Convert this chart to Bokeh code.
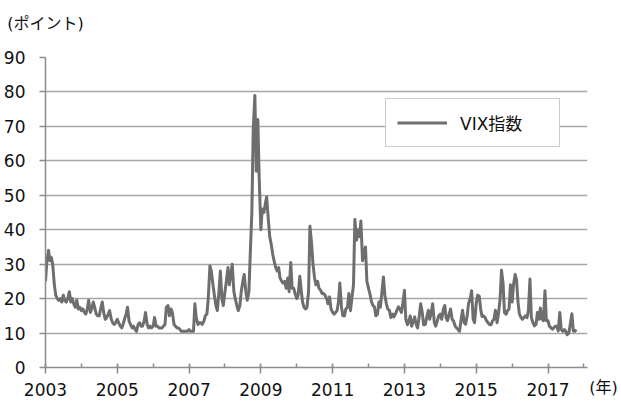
import numpy as np
import pandas as pd
from bokeh.plotting import figure
from bokeh.models import (Range1d, FixedTicker, Legend, LegendItem, ColumnDataSource,
                          LinearAxis)
from bokeh.embed import file_html
from bokeh.resources import INLINE

# VIX index, semi-monthly readings (1st and 15th of each month)
vix_2003 = [25, 31, 34, 31, 32, 30, 24, 21, 20, 19.5, 20, 19, 21, 19.5, 19, 20, 22, 19, 20, 18.5, 17.5, 19.5, 17, 17.5]
vix_2004 = [16.5, 17, 16, 15.5, 17, 19.5, 16, 17, 19, 17.5, 15.5, 15, 15, 17, 19, 16, 14, 14.5, 15.5, 16.5, 14, 13, 12.5, 13]
vix_2005 = [14, 13, 12, 11.5, 12.5, 14, 15.5, 17.5, 13.5, 12.5, 11.5, 12, 11, 10.5, 12.5, 13, 12, 12, 13.5, 16, 12.5, 11.5, 12, 11.5]
vix_2006 = [12, 14.5, 12, 12, 11.5, 11.5, 11.5, 12, 12.5, 17.5, 18, 15, 17, 16, 12.5, 12, 11.5, 11.5, 11, 10.5, 10.5, 10.5, 10.5, 10.5]
vix_2007 = [11, 10.5, 10.5, 10.5, 18.5, 14.5, 12.5, 13, 13, 12.5, 13.5, 15, 15.5, 20, 29.5, 28, 24, 21, 18, 16.5, 22, 28, 20, 18]
vix_2008 = [22, 25, 29, 24, 27, 30, 22, 20, 18, 16.5, 18, 22, 25, 27, 22, 19.5, 22, 33, 45, 69, 79, 57, 72, 55]
vix_2009 = [40, 46, 45, 47.5, 49.5, 44, 38, 36, 33, 31, 29, 28, 29, 26, 25, 24.5, 25, 23, 26, 22, 30.5, 23, 23, 21.5]
vix_2010 = [20, 21, 26.5, 22.5, 19, 17.5, 17, 17.5, 22, 41, 36, 30, 26, 24, 25, 23, 22.4, 21.5, 21.5, 21, 20, 18.5, 20.5, 17]
vix_2011 = [16, 15.5, 16, 16.5, 19, 24.5, 17.5, 15, 15, 17, 17.5, 21.5, 16.5, 20, 24, 43, 37, 40, 38, 42.5, 31, 33, 35, 25]
vix_2012 = [23, 21.4, 19, 18, 17.6, 15, 15.5, 19, 17.5, 21.5, 26.3, 21, 18.5, 17, 16.6, 14.5, 15.5, 14.7, 15.5, 16.5, 17.6, 17, 16, 18.5]
vix_2013 = [22.4, 14, 12.4, 13.5, 15, 12, 13.5, 14.7, 12.5, 11.5, 15, 18.5, 16, 12.4, 12.5, 14.5, 16.6, 14, 16, 18.5, 13, 12, 13.5, 15]
vix_2014 = [15.5, 14, 17, 18, 14.5, 13.6, 15.5, 17, 14, 13.5, 12, 11.5, 11, 10.5, 14, 16.6, 13, 12.6, 15, 18.6, 20, 22.3, 14, 13]
vix_2015 = [18.6, 21, 20.7, 17, 14.8, 15, 14.5, 13.6, 13, 12.5, 12.4, 13.5, 14, 16.6, 13, 15.6, 20, 28.2, 24.4, 16, 15.5, 16.5, 17, 24]
vix_2016 = [19, 24, 27, 25.3, 19, 15.6, 14.5, 14, 14.5, 15, 14.5, 16.5, 25.7, 14.5, 13, 12.1, 12.5, 16, 14, 17.3, 14, 13.6, 22.3, 13.6]
vix_2017 = [13.6, 12, 11.5, 11.1, 11.5, 12, 12, 10.6, 16, 11.1, 10.5, 11, 10.5, 9.5, 10, 12.5, 15.6, 10.6, 10.5, 11]

x_major_ticks = [2003, 2005, 2007, 2009, 2011, 2013, 2015, 2017]
x_minor_ticks = list(range(2003, 2019))
y_ticks = [0, 10, 20, 30, 40, 50, 60, 70, 80, 90]
series_name = "VIX指数"
y_unit_label = "(ポイント)"
x_unit_label = "(年)"

values = (vix_2003 + vix_2004 + vix_2005 + vix_2006 + vix_2007 + vix_2008 + vix_2009 +
          vix_2010 + vix_2011 + vix_2012 + vix_2013 + vix_2014 + vix_2015 + vix_2016 + vix_2017)
dates = pd.date_range("2003-01-01", periods=len(values), freq="SMS")
years = dates.year + (dates.dayofyear - 1) / np.where(dates.is_leap_year, 366, 365)

src = ColumnDataSource(dict(x=np.asarray(years, dtype=float), y=values))

NUM_FONT = "DejaVu Sans"
JP_FONT = "DejaVu Sans, Noto Sans CJK JP"
GRID = "#a6a6a6"
AXIS = "#8c8c8c"

X_START, X_END = 2003, 2018.1

p = figure(width=621, height=403, output_backend="svg", toolbar_location=None,
           x_range=Range1d(X_START, X_END), y_range=Range1d(0, 90),
           min_border_left=43, min_border_right=34, min_border_top=57, min_border_bottom=36)
p.outline_line_color = None
p.background_fill_color = "white"

r = p.line("x", "y", source=src, line_color="#6e6e6e", line_width=3, line_join="round")

# x axis
xa = p.xaxis[0]
xa.ticker = FixedTicker(ticks=x_major_ticks, minor_ticks=x_minor_ticks)
xa.axis_line_color = AXIS
xa.axis_line_width = 1.5
xa.major_tick_line_color = AXIS
xa.minor_tick_line_color = AXIS
xa.major_tick_line_width = 1.5
xa.minor_tick_line_width = 1.5
xa.major_tick_in = 3
xa.major_tick_out = 6
xa.minor_tick_in = 4
xa.minor_tick_out = 0
xa.major_label_text_font = NUM_FONT
xa.major_label_text_font_size = "17px"
xa.major_label_text_color = "#111111"
xa.major_label_standoff = 9

# y axis
ya = p.yaxis[0]
ya.ticker = FixedTicker(ticks=y_ticks)
ya.axis_line_color = AXIS
ya.axis_line_width = 1.5
ya.major_tick_line_color = AXIS
ya.major_tick_line_width = 1.5
ya.major_tick_in = 0
ya.major_tick_out = 6
ya.minor_tick_line_color = None
ya.major_label_text_font = NUM_FONT
ya.major_label_text_font_size = "17px"
ya.major_label_text_color = "#111111"
ya.major_label_standoff = 14

p.xgrid.grid_line_color = None
p.ygrid.ticker = FixedTicker(ticks=y_ticks)
p.ygrid.grid_line_color = GRID
p.ygrid.grid_line_width = 1.5

# y unit caption: a bare axis above the frame carrying one label at the left edge
unit_axis_top = LinearAxis(ticker=FixedTicker(ticks=[X_START], minor_ticks=[]),
                           major_label_overrides={X_START: y_unit_label},
                           axis_line_color=None, major_tick_line_color=None,
                           minor_tick_line_color=None, major_tick_out=0, major_tick_in=0,
                           major_label_standoff=25,
                           major_label_text_font=JP_FONT, major_label_text_font_size="16px",
                           major_label_text_color="#111111")
p.add_layout(unit_axis_top, "above")

# x unit caption: a bare axis below with one label at the right end of the x axis;
# two ideographic spaces push the visible text just past the axis end
unit_axis_bottom = LinearAxis(ticker=FixedTicker(ticks=[X_END], minor_ticks=[]),
                              major_label_overrides={X_END: "\u3000\u3000" + x_unit_label},
                              axis_line_color=None, major_tick_line_color=None,
                              minor_tick_line_color=None, major_tick_out=0, major_tick_in=0,
                              major_label_standoff=-21,
                              major_label_text_font=JP_FONT, major_label_text_font_size="16px",
                              major_label_text_color="#111111")
p.add_layout(unit_axis_bottom, "below")

legend = Legend(items=[LegendItem(label=series_name, renderers=[r])],
                location=(340, 220), padding=11, glyph_width=50, glyph_height=21,
                label_height=21, label_width=88, label_standoff=13, spacing=0, margin=0,
                border_line_color="#9a9a9a", border_line_width=1.2,
                background_fill_color="white", background_fill_alpha=1.0,
                label_text_font=JP_FONT, label_text_font_size="17px",
                label_text_color="#111111")
p.add_layout(legend)

open("out.html", "w").write(file_html(p, INLINE))
